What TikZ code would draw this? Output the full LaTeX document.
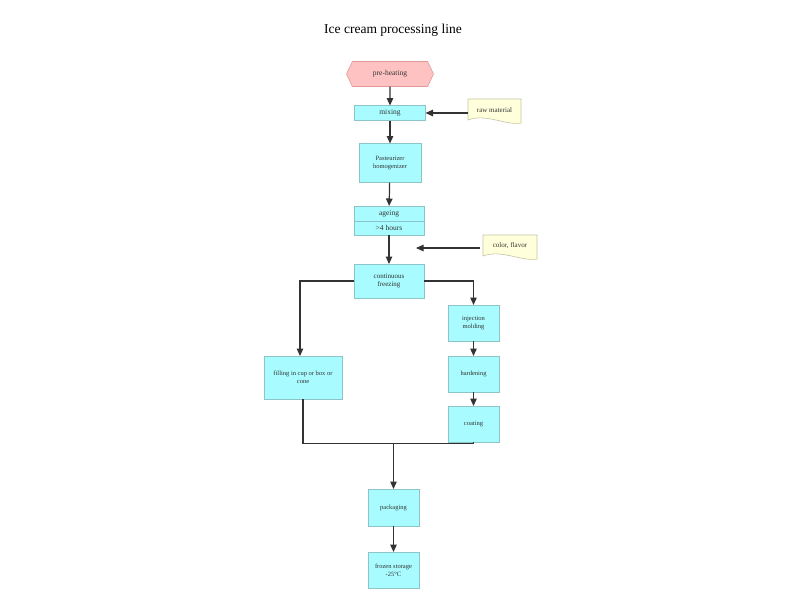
\documentclass[tikz,border=0pt]{standalone}
\usepackage{fontspec}
\setmainfont{Liberation Serif}
\usetikzlibrary{shapes.symbols,arrows.meta,backgrounds}
\definecolor{cyanfill}{HTML}{A8FCFF}
\definecolor{cyanline}{HTML}{8CC4C8}
\definecolor{pinkfill}{HTML}{FFC2C2}
\definecolor{pinkline}{HTML}{E09A9A}
\definecolor{docfill}{HTML}{FFFFDB}
\definecolor{docline}{HTML}{C4C4A4}
\definecolor{arrowc}{HTML}{333333}
\definecolor{txt}{HTML}{333333}
\tikzset{
  procbox/.style={rectangle, draw=cyanline, fill=cyanfill, line width=0.6pt,
    inner sep=0pt, outer sep=0pt, align=center, text=txt,
    font=\fontsize{6.5}{8}\selectfont},
  hexbox/.style={signal, signal to=west and east, signal pointer angle=130,
    draw=pinkline, fill=pinkfill, line width=0.6pt, inner sep=0pt, outer sep=0pt,
    text=txt, font=\fontsize{7.5}{9}\selectfont},
  docbox/.style={rectangle, inner sep=0pt, outer sep=0pt, text=txt,
    font=\fontsize{7}{8.5}\selectfont},
  docshape/.style={draw=docline, fill=docfill, line width=0.6pt},
  flow/.style={draw=arrowc, line width=1.2pt, -{Triangle[length=7.5pt,width=6.5pt]}},
  plainflow/.style={draw=arrowc, line width=1.2pt},
}
\begin{document}
\begin{tikzpicture}[x=1pt,y=-1pt]
\useasboundingbox (0,0) rectangle (800,600);
\node (title) at (393,30) {\fontsize{13.5}{16}\selectfont Ice cream processing line};

\node[hexbox, minimum width=87pt, minimum height=25pt] (pre) at (390,74) {pre-heating};
\node[procbox, minimum width=71pt, minimum height=15pt, font=\fontsize{7.5}{9}\selectfont] (mix) at (390,113) {mixing};
\node[procbox, minimum width=62pt, minimum height=39pt] (past) at (390,163) {Pasteurizer\\homogenizer};
\node[procbox, minimum width=70pt, minimum height=15pt, font=\fontsize{7.5}{9}\selectfont] (age) at (389,213.5) {ageing};
\node[procbox, minimum width=70pt, minimum height=14pt, font=\fontsize{7.5}{9}\selectfont, anchor=north] (hours) at (age.south) {>4 hours};
\node[procbox, minimum width=70pt, minimum height=34pt, font=\fontsize{7}{8.5}\selectfont] (freeze) at (389,281) {continuous\\freezing};
\node[procbox, minimum width=78pt, minimum height=43pt] (fill) at (303,377.5) {filling in cup or box or\\cone};
\node[procbox, minimum width=51pt, minimum height=36pt] (inj) at (473.5,323) {injection\\molding};
\node[procbox, minimum width=51pt, minimum height=36pt] (hard) at (473.5,374) {hardening};
\node[procbox, minimum width=51pt, minimum height=36pt] (coat) at (473.5,424) {coating};
\node[procbox, minimum width=51pt, minimum height=37pt] (pack) at (393.5,507.5) {packaging};
\node[procbox, minimum width=51pt, minimum height=36pt] (store) at (393.5,570) {frozen storage\\-25°C};

\node[docbox, minimum width=53pt, minimum height=22pt] (raw) at (494.5,110) {raw material};
\node[docbox, minimum width=54pt, minimum height=22pt] (color) at (510,246) {color, flavor};

\begin{scope}[on background layer]
  \path[docshape] (raw.north west) -- (raw.north east) -- ([yshift=-2pt]raw.south east)
    .. controls ([xshift=-14pt,yshift=-5pt]raw.south east) and ([xshift=18pt,yshift=8pt]raw.south west) .. ([yshift=1pt]raw.south west) -- cycle;
  \path[docshape] (color.north west) -- (color.north east) -- ([yshift=-2pt]color.south east)
    .. controls ([xshift=-14pt,yshift=-5pt]color.south east) and ([xshift=18pt,yshift=8pt]color.south west) .. ([yshift=1pt]color.south west) -- cycle;
\end{scope}

\coordinate (cftip) at (416,248);
\coordinate (merge) at (393.5,443.5);

\draw[flow] (pre) -- (mix);
\draw[flow] (raw.west |- mix.east) -- (mix.east);
\draw[flow] (mix) -- (past);
\draw[flow] (past) -- (age);
\draw[flow] (hours) -- (freeze);
\draw[flow] ([xshift=-3pt]color.west |- cftip) -- (cftip);
\draw[flow] (freeze.west) -| ([xshift=-3pt]fill.north);
\draw[flow] (freeze.east) -| (inj.north);
\draw[flow] (inj) -- (hard);
\draw[flow] (hard) -- (coat);
\draw[plainflow] (fill.south) |- (merge) -| (coat.south);
\draw[flow] (merge) -- (pack);
\draw[flow] (pack) -- (store);
\end{tikzpicture}
\end{document}
